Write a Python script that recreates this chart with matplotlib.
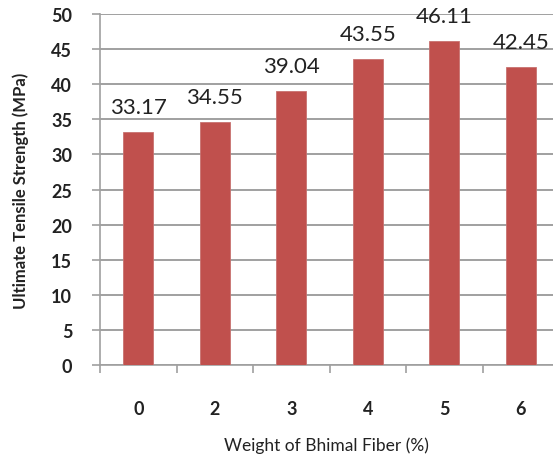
import numpy as np
import matplotlib.pyplot as plt

categories = ["0", "2", "3", "4", "5", "6"]
strength = [33.17, 34.55, 39.04, 43.55, 46.11, 42.45]
labels = ["33.17", "34.55", "39.04", "43.55", "46.11", "42.45"]

plt.rcParams['font.family'] = ['Lato', 'DejaVu Sans']

fig = plt.figure(figsize=(5.53, 4.56), dpi=100)
ax = fig.add_axes([100/553, 90/456, 453/553, 351/456])

x = np.arange(len(categories))
ax.bar(x, strength, width=0.39, color="#C0504D", edgecolor="#C87270", linewidth=0.6, zorder=3)

for xi, v, lab in zip(x, strength, labels):
    ax.annotate(lab, (xi, v), xytext=(0, 11), textcoords="offset points",
                ha="center", va="bottom", fontsize=16, color="#222222", zorder=4)

ax.set_xlim(-0.5, len(categories) - 0.58)
ax.set_ylim(0, 50)
ax.set_yticks(np.arange(0, 51, 5))
ax.grid(axis="y", color="#999999", linewidth=1.3, zorder=0)
ax.set_axisbelow(True)

# category ticks on boundaries, labels at centres
ax.set_xticks(np.arange(-0.5, len(categories) - 0.5, 1.0))
ax.set_xticklabels([])
ax.set_xticks(x, minor=True)
ax.set_xticklabels(categories, minor=True, fontsize=13, fontweight="bold", color="#222222")
ax.tick_params(axis="x", which="minor", length=0, pad=25)
ax.tick_params(axis="x", which="major", length=6, color="#A0A0A0", width=1.2)
ax.tick_params(axis="y", length=6, color="#A0A0A0", width=1.2, pad=14, labelsize=13, labelcolor="#222222")
for t in ax.get_yticklabels():
    t.set_fontweight("bold")

for s in ["top", "right"]:
    ax.spines[s].set_visible(False)
for s in ["left", "bottom"]:
    ax.spines[s].set_color("#A0A0A0")
    ax.spines[s].set_linewidth(1.2)

ax.set_ylabel("Ultimate Tensile Strength (MPa)", fontsize=12, fontweight="bold", color="#222222", labelpad=16)
ax.set_xlabel("Weight of Bhimal Fiber (%)", fontsize=12.5, color="#222222", labelpad=14)

fig.savefig("out.png", dpi=100)
